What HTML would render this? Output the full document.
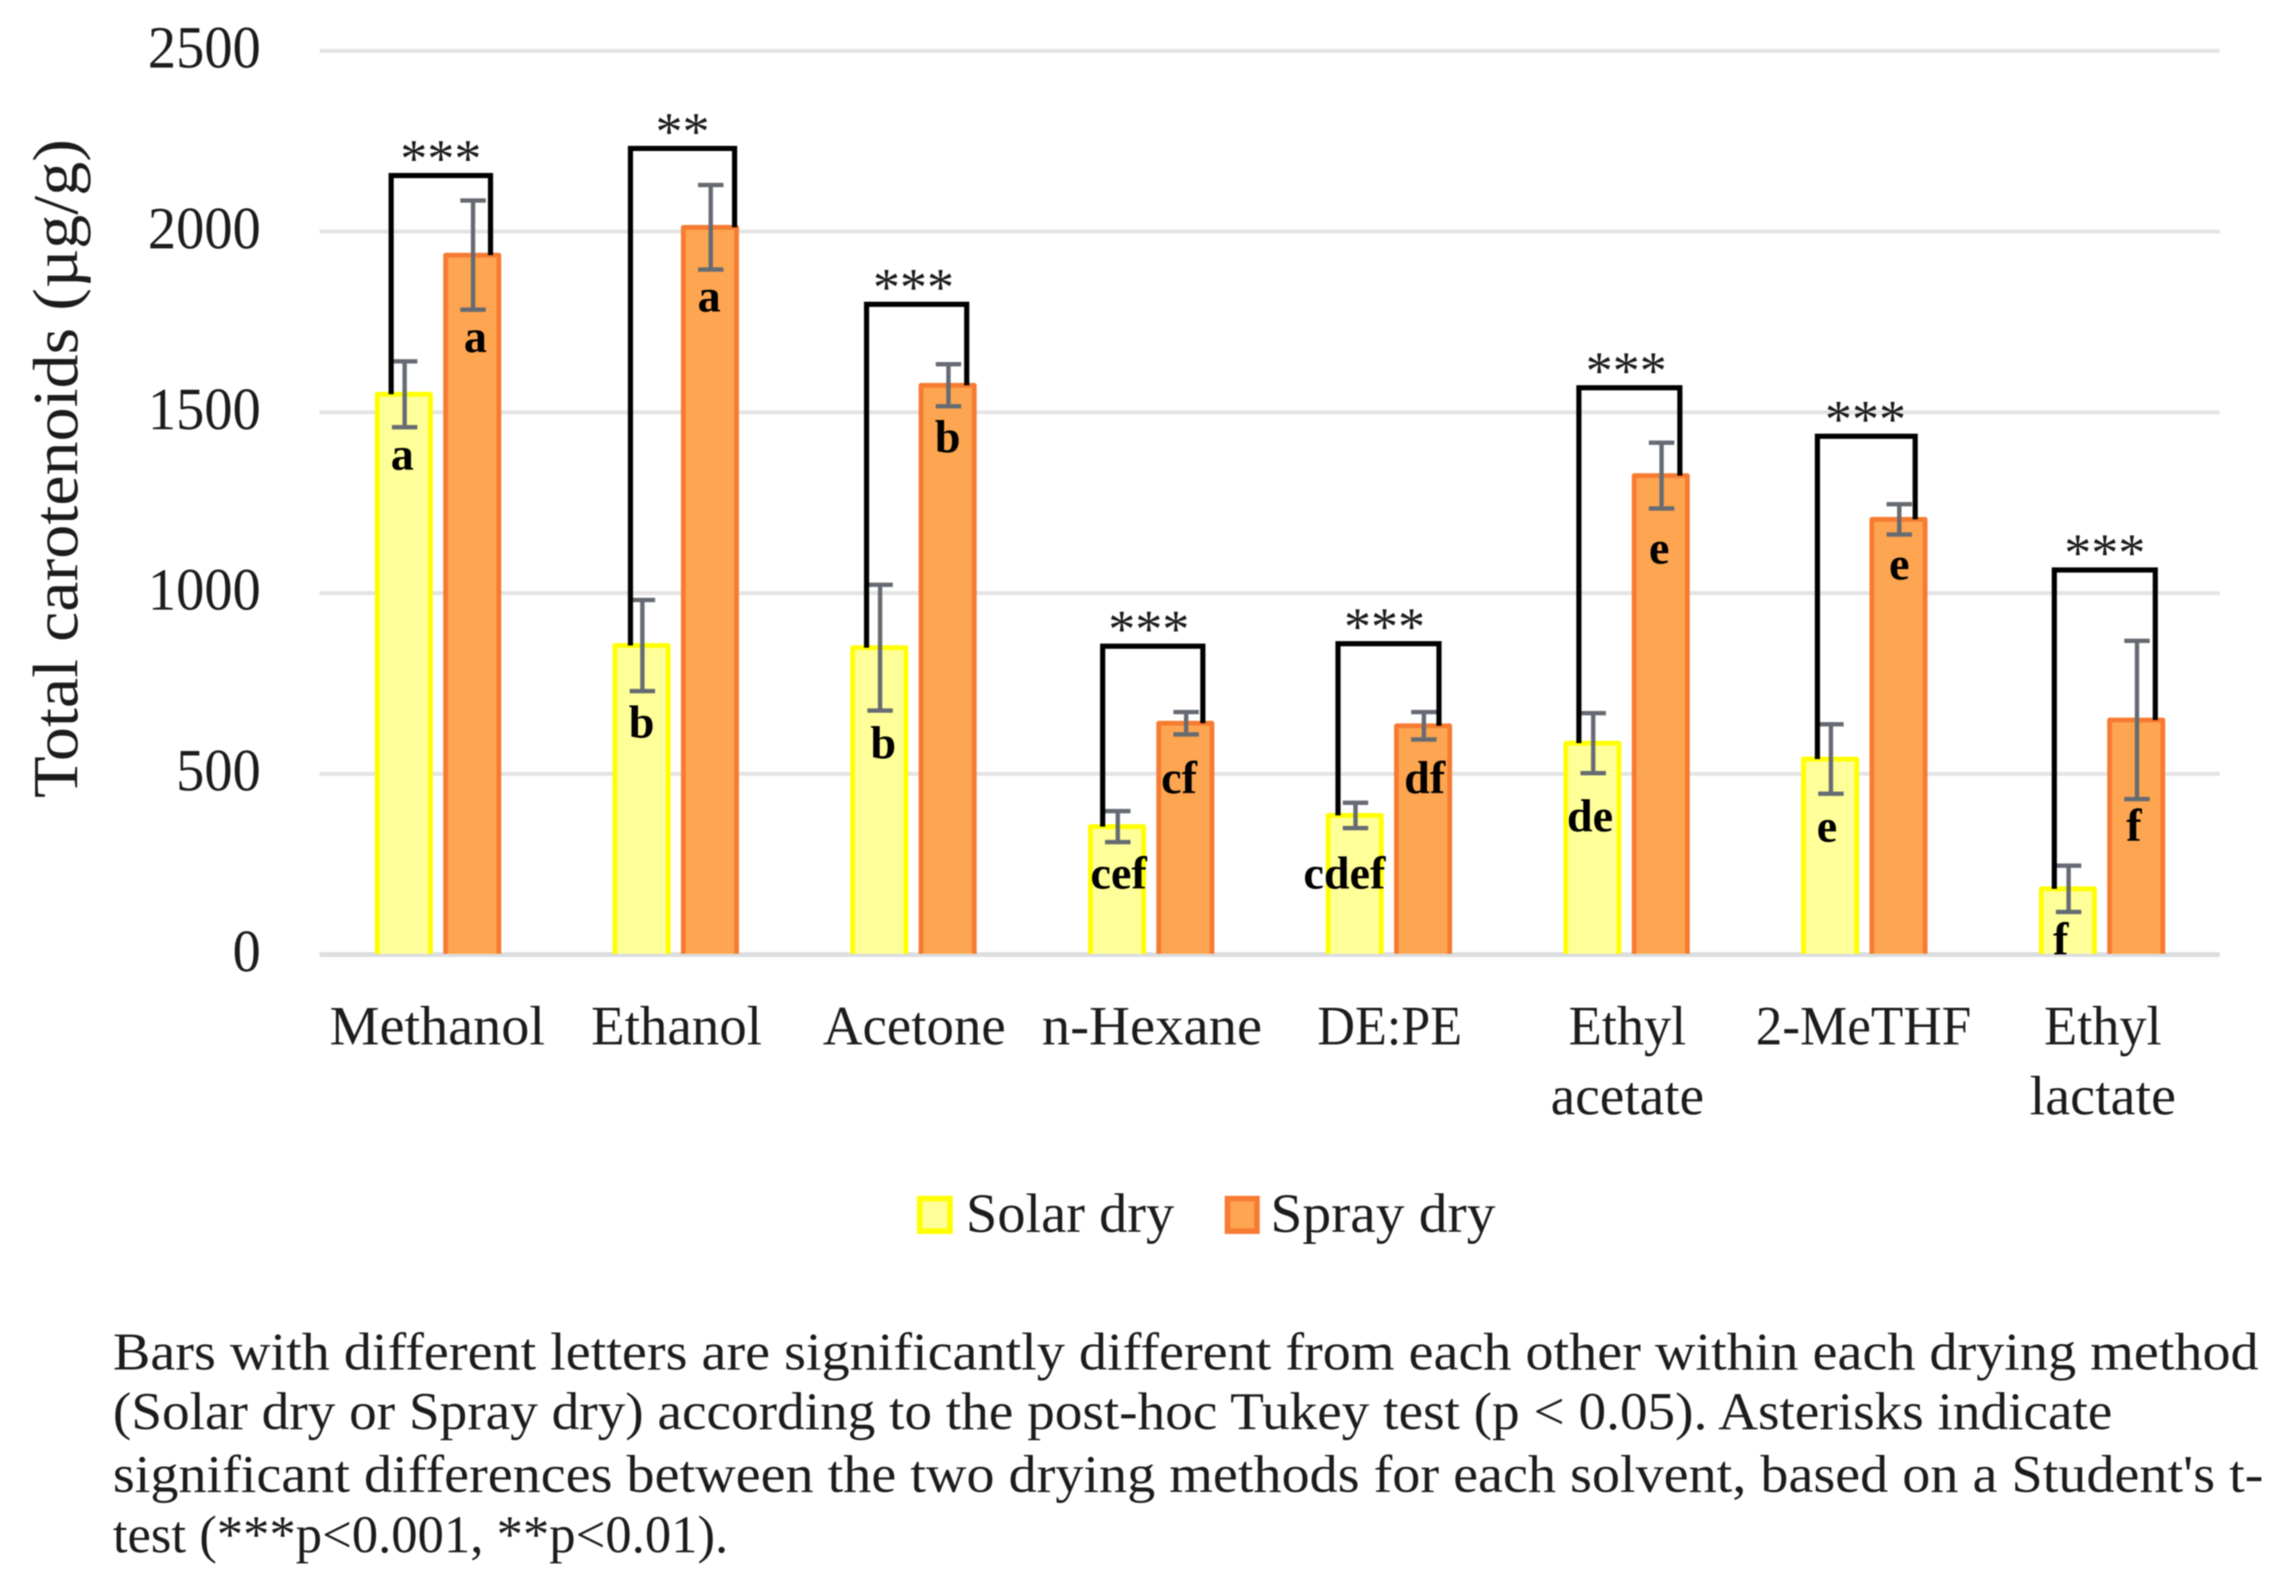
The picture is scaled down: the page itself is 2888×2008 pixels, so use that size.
<!DOCTYPE html>
<html lang="en">
<head>
<meta charset="utf-8">
<title>Total carotenoids by solvent and drying method</title>
<style>
  html,body{margin:0;padding:0;background:#fff;width:2888px;height:2008px;overflow:hidden}
  svg{display:block;filter:blur(0.9px)}
  text{font-family:"Liberation Serif","DejaVu Serif",serif;fill:#1c1c1c}
</style>
</head>
<body>
<svg id="chart" xmlns="http://www.w3.org/2000/svg" width="2888" height="2008" viewBox="0 0 2888 2008">
  <rect x="0" y="0" width="2888" height="2008" fill="#fff"/>
  <g id="grid"></g>
  <g id="yticks"></g>
  <text transform="translate(97,1004) rotate(-90)" font-size="80" textLength="829" lengthAdjust="spacingAndGlyphs">Total carotenoids (µg/g)</text>
  <g id="bars"></g>
  <g id="errors"></g>
  <g id="brackets"></g>
  <g id="letters"></g>
  <g id="xlabels"></g>

  <g>
    <g>
      <rect x="1157" y="1508" width="38" height="41" fill="#ffff99" stroke="#ffff00" stroke-width="7"/>
      <text x="1215" y="1550" font-size="70" textLength="262" lengthAdjust="spacingAndGlyphs">Solar dry</text>
    </g>
    <g>
      <rect x="1544" y="1508" width="37" height="41" fill="#fda550" stroke="#f77b32" stroke-width="7"/>
      <text x="1598" y="1550" font-size="70" textLength="283" lengthAdjust="spacingAndGlyphs">Spray dry</text>
    </g>
  </g>

  <g>
    <text x="142" y="1723" font-size="67" textLength="2699" lengthAdjust="spacingAndGlyphs">Bars with different letters are significantly different from each other within each drying method</text>
    <text x="142" y="1798" font-size="67" textLength="2515" lengthAdjust="spacingAndGlyphs">(Solar dry or Spray dry) according to the post-hoc Tukey test (p &lt; 0.05). Asterisks indicate</text>
    <text x="142" y="1877" font-size="67" textLength="2705" lengthAdjust="spacingAndGlyphs">significant differences between the two drying methods for each solvent, based on a Student's t-</text>
    <text x="142" y="1953" font-size="67" textLength="774" lengthAdjust="spacingAndGlyphs">test (***p&lt;0.001, **p&lt;0.01).</text>
  </g>
</svg>

<script>
const categories = [["Methanol"],["Ethanol"],["Acetone"],["n-Hexane"],["DE:PE"],["Ethyl","acetate"],["2-MeTHF"],["Ethyl","lactate"]];
const yTicks = [0,500,1000,1500,2000,2500];
const solarValues = [1550,855,849,354,385,585,541,182];
const sprayValues = [1935,2012,1575,640,633,1325,1204,649];
const solarErrors = [91,126,174,43,35,83,96,64];
const sprayErrors = [151,117,58,31,38,91,42,219];
const solarLetters = ["a","b","b","cef","cdef","de","e","f"];
const sprayLetters = ["a","a","b","cf","df","e","e","f"];
const solarLetterLevels = [1341,600,543,182,182,341,312,0];
const sprayLetterLevels = [1667,1779,1390,446,446,1082,1038,314];
const bracketLevels = [2155,2230,1799,853,860,1568,1434,1064];
const significance = ["***","**","***","***","***","***","***","***"];

const NS = "http://www.w3.org/2000/svg";
function yScale(v){ return 1201 - v * 0.4548; }
function bandCenter(i){ return 551 + 299 * i; }
function mk(parentId, tag, attrs, txt){
  const el = document.createElementNS(NS, tag);
  for (const k in attrs) el.setAttribute(k, attrs[k]);
  if (txt !== undefined) el.textContent = txt;
  document.getElementById(parentId).appendChild(el);
  return el;
}

yTicks.forEach(function(t){
  const line = mk("grid","line",{x1:402,x2:2792,y1:yScale(t),y2:yScale(t),stroke:t===0?"#dcdde0":"#e4e4e4","stroke-width":t===0?6:5});
  
  
  const s = String(t);
  const label = mk("yticks","text",{x:328,y:yScale(t)+21,"text-anchor":"end","font-size":75,textLength:s.length*35.5,lengthAdjust:"spacingAndGlyphs"},s);
  
  
});

const BAR_OFFSET = 43, BAR_HALF = 33.5;
function drawSeries(values, errors, letters, levels, offset, fill, stroke, key, nudges){
  values.forEach(function(v,i){
    const cx = bandCenter(i) + offset;
    const top = yScale(v), base = yScale(0) - 1;
    const bar = mk("bars","rect",{x:cx-BAR_HALF,y:top,width:BAR_HALF*2,height:base-top,fill:fill});
    
    
    const outline = mk("bars","path",{d:"M"+(cx-BAR_HALF)+" "+base+"V"+top+"H"+(cx+BAR_HALF)+"V"+base,fill:"none",stroke:stroke,"stroke-width":6,"stroke-linejoin":"round"});
    
    
    const hi = yScale(v + errors[i]), lo = yScale(v - errors[i]);
    const ex = cx + 1;
    const err = mk("errors","path",{d:"M"+ex+" "+hi+"V"+lo+"M"+(ex-16)+" "+hi+"H"+(ex+16)+"M"+(ex-16)+" "+lo+"H"+(ex+16),fill:"none",stroke:"#666b73","stroke-width":5.5});
    
    
    const letter = mk("letters","text",{x:cx+nudges[i],y:yScale(levels[i]),"text-anchor":"middle","font-size":58,"font-weight":"bold",fill:"#000"},letters[i]);
    letter.style.fill = "#000";
    
    
  });
}
drawSeries(solarValues, solarErrors, solarLetters, solarLetterLevels, -BAR_OFFSET, "#ffff99", "#ffff00", "solar", [-2,0,5,2,-13,-3,-4,-9]);
drawSeries(sprayValues, sprayErrors, sprayLetters, sprayLetterLevels, BAR_OFFSET, "#fda550", "#f77b32", "spray", [4,-1,0,-8,2,-2,1,-3]);

const bracketLeftNudge = [-59,-57,-59,-61,-64,-60,-59,-60];
const bracketRightNudge = [66,74,67,65,63,67,64,67];
const starNudge = [0,0,-4,-5,-5,-4,-1,0];
categories.forEach(function(c,i){
  const lx = bandCenter(i) + bracketLeftNudge[i];
  const rx = bandCenter(i) + bracketRightNudge[i];
  const ty = yScale(bracketLevels[i]);
  const br = mk("brackets","path",{d:"M"+lx+" "+yScale(solarValues[i])+"V"+ty+"H"+rx+"V"+yScale(sprayValues[i]),fill:"none",stroke:"#000","stroke-width":6.5,"stroke-linejoin":"miter"});
  
  
  const stars = mk("brackets","text",{x:(lx+rx)/2+starNudge[i],y:ty+1,"text-anchor":"middle","font-size":68},significance[i]);
  
  
});

const labelFit = {"Methanol":271,"Ethanol":215,"Acetone":230,"n-Hexane":277,"DE:PE":182,"Ethyl":148,"acetate":193,"2-MeTHF":271,"lactate":184};
categories.forEach(function(lines,i){
  lines.forEach(function(s,j){
    const t = mk("xlabels","text",{x:bandCenter(i)+1-(i===0||i===6?2:0),y:1314+88*j,"text-anchor":"middle","font-size":70,textLength:labelFit[s],lengthAdjust:"spacingAndGlyphs"},s);
    
    
  });
});
</script>
</body>
</html>
